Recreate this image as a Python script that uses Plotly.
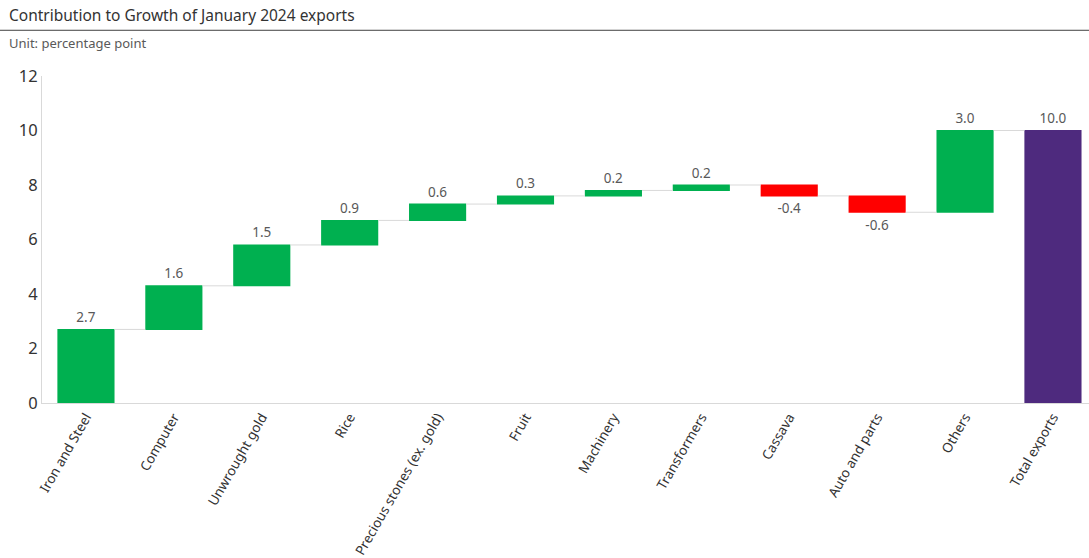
import plotly.graph_objects as go

categories = ["Iron and Steel", "Computer", "Unwrought gold", "Rice",
              "Precious stones (ex. gold)", "Fruit", "Machinery", "Transformers",
              "Cassava", "Auto and parts", "Others", "Total exports"]
values = [2.7, 1.6, 1.5, 0.9, 0.6, 0.3, 0.2, 0.2, -0.4, -0.6, 3.0, 10.0]
measures = ["relative"] * 11 + ["total"]
labels = [f"{v:.1f}" for v in values]

W, H = 1089, 558
L, R, T, B = 42, 0, 76, 153
pw = W - L - R
ph = H - T - B

fig = go.Figure(go.Waterfall(
    x=categories,
    y=values,
    measure=measures,
    text=labels,
    textposition="outside",
    textfont=dict(family="Noto Sans", size=13.5, color="#595959"),
    increasing=dict(marker=dict(color="#00B050", line=dict(width=0))),
    decreasing=dict(marker=dict(color="#FF0000", line=dict(width=0))),
    totals=dict(marker=dict(color="#4E2A7E", line=dict(width=0))),
    connector=dict(line=dict(color="#d9d9d9", width=1)),
    width=0.65,
    cliponaxis=False,
))

fig.update_layout(
    width=W, height=H,
    margin=dict(l=L, r=R, t=T, b=B),
    plot_bgcolor="white", paper_bgcolor="white",
    showlegend=False,
    font=dict(family="Noto Sans", color="#333333"),
    xaxis=dict(
        range=[-0.5, 11.41],
        tickangle=-60,
        tickfont=dict(size=13.5, color="#333333"),
        showgrid=False,
        showline=True, linecolor="#d9d9d9", linewidth=1,
        ticks="",
    ),
    yaxis=dict(
        range=[0, 12],
        dtick=2,
        tickfont=dict(size=16.5, color="#333333"),
        showgrid=False,
        zeroline=False,
        showline=True, linecolor="#d9d9d9", linewidth=1,
        ticks="",
        ticklen=0,
    ),
)

def px_x(p):
    return (p - L) / pw

def px_y(p):
    return (H - B - p) / ph

fig.add_shape(type="line", xref="paper", yref="paper",
              x0=px_x(0), x1=px_x(W), y0=px_y(30), y1=px_y(30),
              line=dict(color="#404040", width=1))

fig.add_annotation(xref="paper", yref="paper", x=px_x(7), y=px_y(15),
                   xanchor="left", yanchor="middle", showarrow=False,
                   text="Contribution to Growth of January 2024 exports",
                   font=dict(family="Noto Sans", size=15.5, color="#333333"))
fig.add_annotation(xref="paper", yref="paper", x=px_x(7), y=px_y(43),
                   xanchor="left", yanchor="middle", showarrow=False,
                   text="Unit: percentage point",
                   font=dict(family="Noto Sans", size=13, color="#595959"))

fig.write_html("out.html",
               config={"displayModeBar": False},
               post_script="document.body.style.margin='0';document.body.style.overflow='hidden';")
